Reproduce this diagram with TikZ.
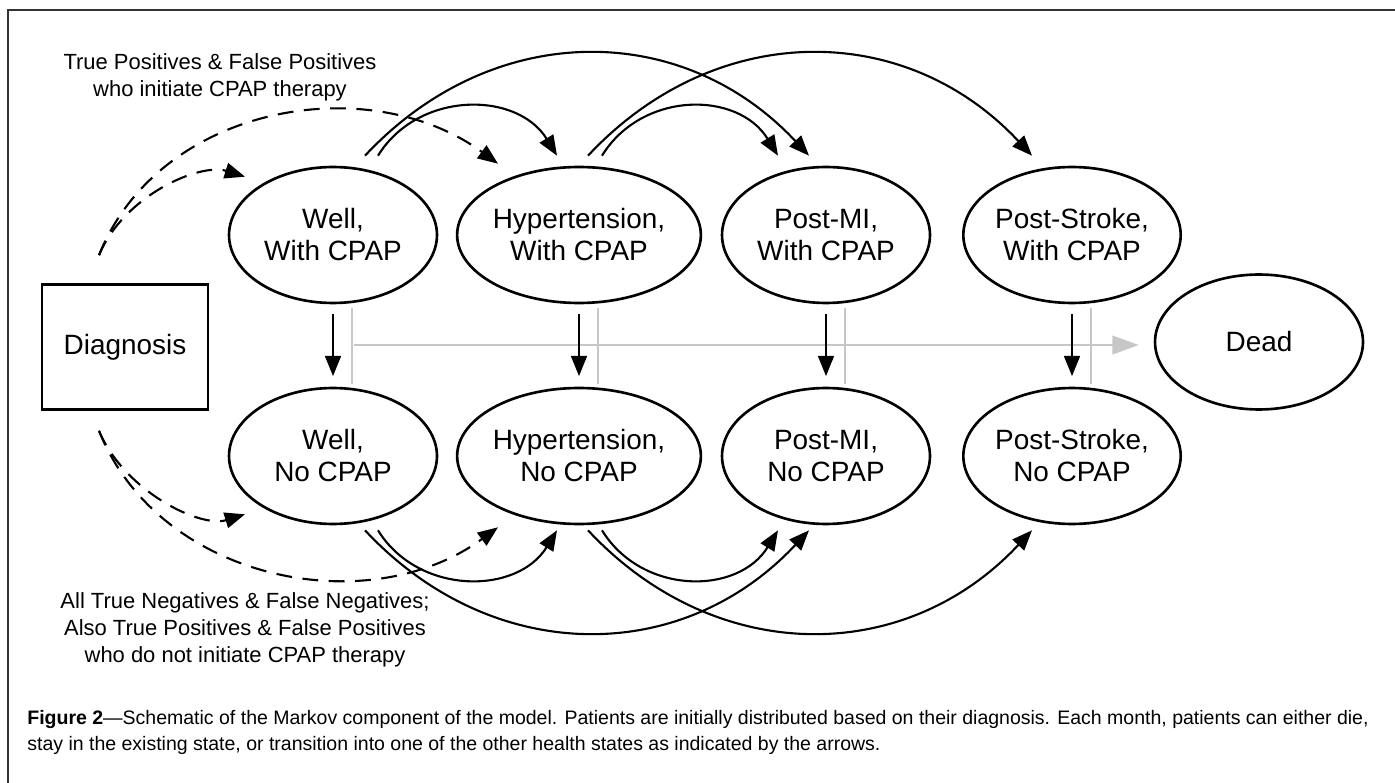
\documentclass[tikz,border=0pt]{standalone}
\usepackage{fontspec}
\setmainfont{Liberation Sans}
\usetikzlibrary{arrows.meta,shapes.geometric}
\begin{document}
\begin{tikzpicture}[x=0.02cm,y=-0.02cm,
  hs/.style={draw,ellipse,line width=1.5pt,minimum width=4.16cm,minimum height=2.72cm,
    inner sep=0pt,align=center,font=\fontsize{15.9}{18.2}\selectfont},
  flow/.style={line width=1.2pt,-{Triangle[length=11.5pt,width=9pt]}},
  entry/.style={flow,dash pattern=on 9pt off 6pt},
  death/.style={line width=1.4pt,black!22},
  note/.style={align=center,font=\fontsize{12.5}{15.4}\selectfont}]
  \useasboundingbox (0,0) rectangle (1395,783);
  % Frame
  \draw[line width=1pt,black!80] (8,783) -- (8,10) -- (1395,10);
  % States
  \node[draw,line width=1.5pt,minimum width=3.32cm,minimum height=2.5cm,
    font=\fontsize{15.9}{18.2}\selectfont] (diag) at (125,347) {Diagnosis};
  \node[hs] (c-well) at (333,235) {Well,\\With CPAP};
  \node[hs] (c-hyp) at (579,235) {Hypertension,\\With CPAP};
  \node[hs] (c-mi) at (826,235) {Post-MI,\\With CPAP};
  \node[hs] (c-stroke) at (1072,235) {Post-Stroke,\\With CPAP};
  \node[hs] (n-well) at (333,456) {Well,\\No CPAP};
  \node[hs] (n-hyp) at (579,456) {Hypertension,\\No CPAP};
  \node[hs] (n-mi) at (826,456) {Post-MI,\\No CPAP};
  \node[hs] (n-stroke) at (1072,456) {Post-Stroke,\\No CPAP};
  \node[hs,minimum height=2.7cm] (dead) at (1259,342) {Dead};
  % Death
  \coordinate (g0) at ([shift={(21,110)}]c-well.center);
  \draw[death,shorten >=8.5pt,-{Triangle[length=15pt,width=10.5pt]}] (g0) -- (g0 -| dead.west);
  \foreach \s in {well,hyp,mi,stroke} {
    \draw[death] ([shift={(19,4)}]c-\s.south) -- ([shift={(19,-3)}]n-\s.north);
    \draw[flow,shorten <=5.5pt,shorten >=6pt] (c-\s.south) -- (n-\s.north);
  }
  % Transitions
  \foreach \r/\a/\v/\g in {c/north/-1/10,n/south/1/5} {
    \draw[flow] ([shift={(45,\g*\v)}]\r-well.\a) .. controls +(40,65*\v) and +(-40,65*\v) .. ([shift={(-22,\g*\v)}]\r-hyp.\a);
    \draw[flow] ([shift={(32,\g*\v)}]\r-well.\a) .. controls +(127,136*\v) and +(-127,136*\v) .. ([shift={(-17,\g*\v)}]\r-mi.\a);
    \draw[flow] ([shift={(23,\g*\v)}]\r-hyp.\a) .. controls +(40,65*\v) and +(-40,65*\v) .. ([shift={(-48,\g*\v)}]\r-mi.\a);
    \draw[flow] ([shift={(9,\g*\v)}]\r-hyp.\a) .. controls +(127,136*\v) and +(-127,136*\v) .. ([shift={(-40,\g*\v)}]\r-stroke.\a);
  }
  % Initial distribution
  \coordinate (d-c) at ([shift={(-26,-28)}]diag.north);
  \coordinate (d-n) at ([shift={(-26,20)}]diag.south);
  \foreach \r/\a/\v in {c/north/-1,n/south/1} {
    \draw[entry] (d-\r) .. controls +(60,150*\v) and +(-130,95*\v) .. ([shift={(-81,2*\v)}]\r-hyp.\a);
    \draw[entry] (d-\r) .. controls +(25,60*\v) and +(-45,14*\v) .. ([shift={(-88,-11*\v)}]\r-well.\a);
  }
  % Labels
  \node[note] (tp) at (220,77) {True Positives \& False Positives\\who initiate CPAP therapy};
  \node[note] (tn) at (245,630) {All True Negatives \& False Negatives;\\Also True Positives \& False Positives\\who do not initiate CPAP therapy};
  \node[anchor=north west,align=left,inner sep=0pt,font=\fontsize{11.1}{15}\selectfont] (cap) at (27,710)
    {\textbf{Figure 2}—Schematic of the Markov component of the model. Patients are initially distributed based on their diagnosis. Each month, patients can either die,\\stay in the existing state, or transition into one of the other health states as indicated by the arrows.};
\end{tikzpicture}
\end{document}
